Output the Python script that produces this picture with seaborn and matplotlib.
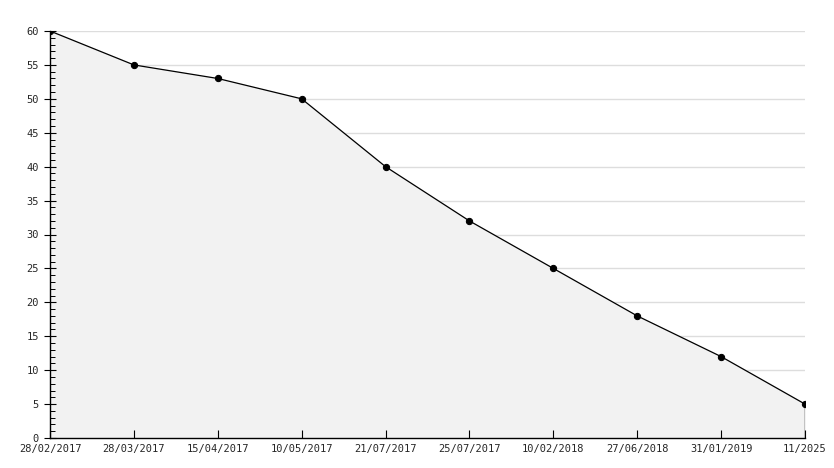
import matplotlib
matplotlib.use("Agg")
import matplotlib.pyplot as plt
import seaborn as sns
import pandas as pd
from matplotlib.ticker import MultipleLocator

dates = ["28/02/2017", "28/03/2017", "15/04/2017", "10/05/2017", "21/07/2017",
         "25/07/2017", "10/02/2018", "27/06/2018", "31/01/2019", "11/2025"]
values = [60, 55, 53, 50, 40, 32, 25, 18, 12, 5]

df = pd.DataFrame({"pos": range(len(dates)), "value": values})

sns.set_style("white")
plt.rcParams["font.family"] = ["DejaVu Sans Mono"]

fig = plt.figure(figsize=(8.34, 4.68), dpi=100)
ax = fig.add_axes([50 / 834, 30 / 468, 755 / 834, 407 / 468])

# gridlines under the filled area
for y in range(5, 61, 5):
    ax.axhline(y, color="#dddddd", lw=1, zorder=1)

ax.fill_between(df["pos"], df["value"], 0, color="#f2f2f2", zorder=2)
ax.vlines(df["pos"].iloc[-1], 0, df["value"].iloc[-1], color="black", lw=1, zorder=3)
sns.lineplot(data=df, x="pos", y="value", ax=ax, color="black", lw=0.9,
             marker="o", markersize=4.5, markeredgecolor="black", zorder=4)

ax.set_xlim(0, len(dates) - 1)
ax.set_ylim(0, 60)
ax.set_xticks(df["pos"])
ax.set_xticklabels(dates)
ax.yaxis.set_major_locator(MultipleLocator(5))
ax.yaxis.set_minor_locator(MultipleLocator(1))
ax.set_axisbelow(False)

ax.tick_params(axis="x", direction="in", length=6, width=0.8, color="black",
               labelsize=7.5, pad=4, bottom=True)
ax.tick_params(axis="y", which="major", direction="inout", length=8, width=0.8,
               color="black", labelsize=7.5, pad=4, left=True)
ax.tick_params(axis="y", which="minor", direction="in", length=3.5, width=0.7,
               color="black", left=True)

for s in ["top", "right"]:
    ax.spines[s].set_visible(False)
for s in ["left", "bottom"]:
    ax.spines[s].set_color("black")
    ax.spines[s].set_linewidth(1)
    ax.spines[s].set_zorder(5)

ax.set_xlabel("")
ax.set_ylabel("")

fig.savefig("out.png", dpi=100)
